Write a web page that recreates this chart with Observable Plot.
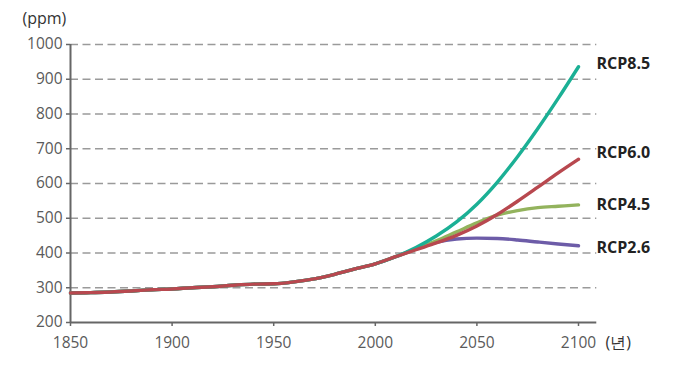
<!DOCTYPE html>
<html>
<head>
<meta charset="utf-8">
<script src="https://cdn.jsdelivr.net/npm/d3@7"></script>
<script src="https://cdn.jsdelivr.net/npm/@observablehq/plot@0.6"></script>
<style>
  html, body { margin: 0; padding: 0; background: #fff; }
</style>
</head>
<body>
<div id="chart"></div>
<script>
// Historical CO2 concentration (ppm), shared by all scenarios
const histYears = [1850, 1860, 1870, 1880, 1890, 1900, 1910, 1920, 1930, 1940, 1950, 1960, 1970, 1980, 1990, 2000, 2010];
const histValues = [284.7, 286.1, 287.8, 290.7, 294.2, 296.6, 300.2, 303.0, 307.2, 310.4, 311.3, 316.9, 325.7, 338.7, 354.2, 368.9, 389.3];

// Scenario projections
const futureYears = [2020, 2030, 2040, 2050, 2060, 2070, 2080, 2090, 2100];
const rcp26 = [412.1, 430.8, 440.2, 442.7, 441.7, 437.5, 431.6, 426.0, 420.9];
const rcp45 = [411.1, 435.0, 460.8, 486.5, 508.9, 522.0, 530.5, 534.5, 538.4];
const rcp85 = [415.8, 448.8, 489.4, 540.5, 603.5, 677.1, 758.2, 844.8, 935.9];
const rcp60 = [409.4, 428.9, 450.7, 477.7, 510.6, 549.0, 589.5, 630.5, 669.7];

const seriesNames = ["RCP2.6", "RCP4.5", "RCP8.5", "RCP6.0"];
const seriesColors = ["#6d5ca8", "#93b35d", "#1bb095", "#b8484f"];
const seriesValues = [rcp26, rcp45, rcp85, rcp60];

const yTicks = [200, 300, 400, 500, 600, 700, 800, 900, 1000];
const gridTicks = [300, 400, 500, 600, 700, 800, 900, 1000];
const xTicks = [1850, 1900, 1950, 2000, 2050, 2100];

// Build long table
const rows = [];
seriesNames.forEach((name, i) => {
  histYears.forEach((yr, j) => rows.push({series: name, year: yr, value: histValues[j]}));
  futureYears.forEach((yr, j) => rows.push({series: name, year: yr, value: seriesValues[i][j]}));
});
const ends = seriesNames.map((name, i) => ({series: name, year: 2100, value: seriesValues[i][seriesValues[i].length - 1]}));
const labelDy = {"RCP8.5": -3, "RCP6.0": -6, "RCP4.5": 0, "RCP2.6": 2};

const xEnd = 2109;

const chart = Plot.plot({
  width: 689,
  height: 377,
  marginLeft: 70,
  marginRight: 111,
  marginTop: 44,
  marginBottom: 55,
  style: {fontFamily: "'Open Sans', sans-serif", fontSize: "15px", color: "#666", background: "#fff"},
  x: {domain: [1850, 2100]},
  y: {domain: [200, 1000]},
  color: {domain: seriesNames, range: seriesColors},
  marks: [
    Plot.ruleY(gridTicks, {x1: 1850, x2: xEnd, stroke: "#9a9a9a", strokeWidth: 1.5, strokeDasharray: "8,4.5"}),
    Plot.ruleX([1850], {y1: 200, y2: 1000, stroke: "#666", strokeWidth: 2}),
    Plot.ruleY([200], {x1: 1850, x2: xEnd, stroke: "#666", strokeWidth: 2}),
    Plot.axisY({ticks: yTicks, tickSize: 4, tickPadding: 4, stroke: "#666", strokeWidth: 1.5, fill: "#5a5a5a", fontSize: 15.5, tickFormat: d => String(d), label: null}),
    Plot.axisX({ticks: xTicks, tickSize: 4, tickPadding: 10, stroke: "#666", strokeWidth: 1.5, fill: "#5a5a5a", fontSize: 15.5, tickFormat: d => String(d), label: null}),
    Plot.line(rows, {x: "year", y: "value", z: "series", stroke: "series", strokeWidth: 3.4, curve: "monotone-x"}),
    ...ends.map(d => Plot.text([d], {x: "year", y: "value", text: "series", textAnchor: "start", dx: 18, dy: labelDy[d.series], fontWeight: "bold", fontSize: 16, fill: "#222"})),
    Plot.text(["(ppm)"], {x: 1850, y: 1000, text: d => d, textAnchor: "start", dx: -48, dy: -26, fontSize: 16, fill: "#333"}),
    Plot.text(["(년)"], {x: 2100, y: 200, text: d => d, textAnchor: "start", dx: 27, dy: 20, fontSize: 16, fill: "#333"})
  ]
});
document.getElementById("chart").appendChild(chart);
</script>
</body>
</html>
